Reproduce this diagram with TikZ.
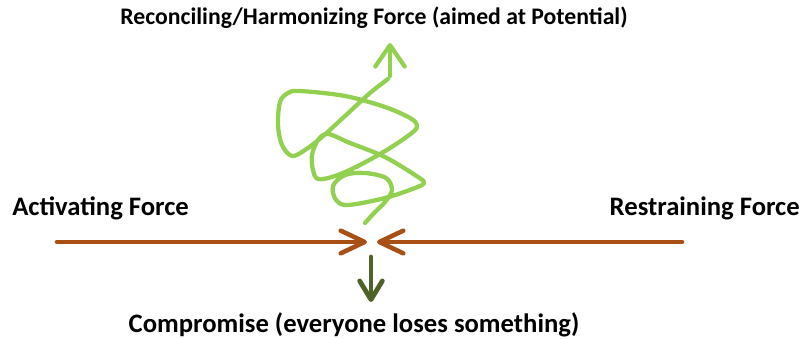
\documentclass[tikz,border=0pt]{standalone}
\usepackage{fontspec}
\setmainfont{Carlito}
\usepackage{tikz}
\usetikzlibrary{arrows.meta,calc,positioning}
\definecolor{forcebrown}{HTML}{A84F16}
\definecolor{spiralgreen}{HTML}{92D050}
\definecolor{compgreen}{HTML}{4F6228}
\tikzset{
every picture/.style={line cap=round,line join=round},
fig label/.style={font=\fontsize{20}{24}\selectfont\bfseries, text=black, inner sep=0pt},
top label/.style={fig label, font=\fontsize{17.8}{22}\selectfont\bfseries},
force arrow/.style={
  draw=forcebrown,
  line width=3.4pt,
  -{Straight Barb[length=18pt,width=17pt,round]}
},
spiral line/.style={draw=spiralgreen, line width=3.2pt},
spiral arrow/.style={
  draw=spiralgreen,
  line width=3.2pt,
  -{Straight Barb[length=16pt,width=22pt,round]}
},
comp arrow/.style={
  draw=compgreen,
  line width=3.6pt,
  -{Straight Barb[length=14pt,width=17pt,round]}
}
}
\begin{document}
\begin{tikzpicture}[x=0.75pt,y=-0.75pt]
\useasboundingbox (0,0) rectangle (804,339);
% labels
\node[top label,anchor=base] (reconcile) at (374,24) {Reconciling/Harmonizing Force (aimed at Potential)};
\node[fig label,anchor=base west] (activating) at (12,215) {Activating Force};
\node[fig label,anchor=base east] (restraining) at (800,215) {Restraining Force};
\node[fig label,anchor=base] (compromise) at (354,332) {Compromise (everyone loses something)};
% end points
\coordinate (actStart) at (57,242);
\coordinate (actTip) at (367,242);
\coordinate (resStart) at (682,242);
\coordinate (resTip) at (377,242);
\coordinate (compTop) at (371,257);
\coordinate (compTip) at (371,302);
\coordinate (sprTop) at (390,76);
\coordinate (sprTip) at (390,43);
% opposing forces
\draw[force arrow] (actStart) -- (actTip);
\draw[force arrow] (resStart) -- (resTip);
\draw[comp arrow] (compTop) -- (compTip);
% rising spiral
\draw[spiral line] plot[smooth,tension=0.55] coordinates {
  (365,223) (375,212) (385,202) (392,190) (386,178) (365,173) (345,175)
  (333,186) (336,200) (348,205) (385,198) (415,188) (424,183) (418,177)
  (385,157) (350,143) (328,134) (318,140) (312,155) (313,170) (318,179)
  (335,176) (360,165) (390,148) (413,132) (417,125) (410,118) (385,107)
  (345,96) (300,91) (288,93) (280,102) (278,125) (282,145) (292,156)
  (305,150) (322,137) (345,116) (370,93) (388,79)};
\draw[spiral arrow] (sprTop) -- (sprTip);
\end{tikzpicture}
\end{document}
